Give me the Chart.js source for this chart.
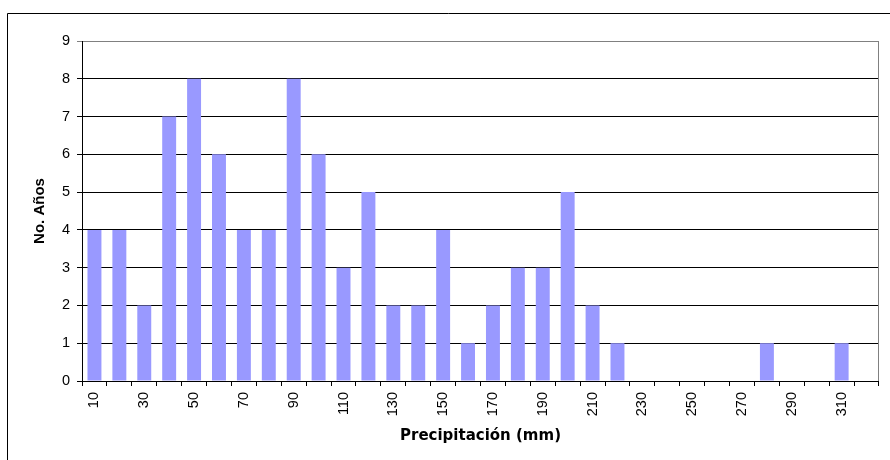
<!DOCTYPE html>
<html>
<head>
<meta charset="utf-8">
<script src="https://cdn.jsdelivr.net/npm/chart.js@4/dist/chart.umd.min.js"></script>
<style>
  html, body { margin: 0; padding: 0; background: #fff; }
  #wrap { position: relative; width: 890px; height: 460px; }
</style>
</head>
<body>
<div id="wrap"><canvas id="c" width="890" height="460"></canvas></div>
<script>
const categories = [10,20,30,40,50,60,70,80,90,100,110,120,130,140,150,160,170,180,190,200,210,220,230,240,250,260,270,280,290,300,310,320];
const years = [4,4,2,7,8,6,4,4,8,6,3,5,2,2,4,1,2,3,3,5,2,1,0,0,0,0,0,1,0,0,1,0];
const yTicks = [0,1,2,3,4,5,6,7,8,9];
const xTitle = 'Precipitación (mm)';
const yTitle = 'No. Años';

const framePlugin = {
  id: 'frame',
  beforeDraw(chart) {
    const ctx = chart.ctx;
    ctx.save();
    ctx.strokeStyle = '#000';
    ctx.lineWidth = 1;
    ctx.beginPath();
    ctx.moveTo(7.5, chart.height);
    ctx.lineTo(7.5, 13.5);
    ctx.lineTo(chart.width, 13.5);
    ctx.stroke();
    ctx.restore();
  },
  afterDraw(chart) {
    const a = chart.chartArea;
    const ctx = chart.ctx;
    ctx.save();
    ctx.strokeStyle = '#808080';
    ctx.lineWidth = 1;
    ctx.beginPath();
    ctx.moveTo(Math.round(a.right) - 0.5, a.top);
    ctx.lineTo(Math.round(a.right) - 0.5, a.bottom);
    ctx.stroke();
    ctx.restore();
  }
};

new Chart(document.getElementById('c'), {
  type: 'bar',
  data: {
    labels: categories.map(String),
    datasets: [{
      data: years,
      backgroundColor: '#9999ff',
      borderWidth: 0,
      barPercentage: 0.56,
      categoryPercentage: 1.0
    }]
  },
  options: {
    responsive: false,
    animation: false,
    devicePixelRatio: 1,
    layout: { padding: { top: 41, right: 4, left: 0, bottom: 0 } },
    plugins: { legend: { display: false }, tooltip: { enabled: false } },
    scales: {
      x: {
        offset: true,
        afterFit(scale) { scale.height = 79; },
        grid: { display: true, drawOnChartArea: false, drawTicks: true, tickLength: 5, color: '#000', offset: true },
        border: { color: '#000', width: 1 },
        ticks: {
          autoSkip: false, minRotation: 90, maxRotation: 90, padding: 6,
          color: '#000',
          font: { family: 'Liberation Sans, Arial, sans-serif', size: 14.5 },
          callback: (v, i) => (i % 2 === 0 ? categories[i] : '')
        },
        title: {
          display: true, text: xTitle, color: '#000',
          font: { family: 'DejaVu Sans', size: 15, weight: 'bold' },
          padding: { top: 0, bottom: 15 }
        }
      },
      y: {
        min: yTicks[0], max: yTicks[yTicks.length - 1],
        afterFit(scale) { scale.width = 82; },
        afterBuildTicks(scale) { scale.ticks = yTicks.map(v => ({ value: v })); },
        grid: {
          color: (c) => (c.tick && c.tick.value === 9 ? '#808080' : '#000'),
          tickLength: 5, lineWidth: 1
        },
        border: { color: '#000', width: 1 },
        ticks: {
          stepSize: 1, padding: 7, color: '#000',
          font: { family: 'Liberation Sans, Arial, sans-serif', size: 14.5 }
        },
        title: {
          display: true, text: yTitle, color: '#000',
          font: { family: 'Liberation Sans, Arial, sans-serif', size: 15, weight: 'bold' },
          padding: { top: 31, bottom: 0 }
        }
      }
    }
  },
  plugins: [framePlugin]
});
</script>
</body>
</html>
